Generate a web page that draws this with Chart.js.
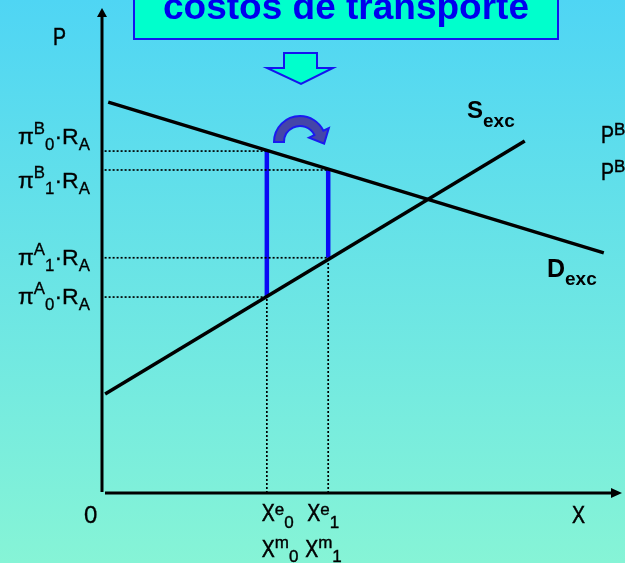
<!DOCTYPE html>
<html>
<head>
<meta charset="utf-8">
<script src="https://cdn.jsdelivr.net/npm/chart.js@4.4.0/dist/chart.umd.min.js"></script>
<style>
  html, body { margin: 0; padding: 0; }
  #wrap { width: 625px; height: 563px; position: relative; }
</style>
</head>
<body>
<div id="wrap"><canvas id="graphCanvas"></canvas></div>
<script>
// excess demand and excess supply lines (end points)
const demandExc = [{x: 1.2, y: 80.6}, {x: 96.5, y: 49.5}];
const supplyExc = [{x: 0.6, y: 20.4}, {x: 81.3, y: 72.6}];
// quantities traded before (0) and after (1) the cost change
const quantityIndex = ['0', '1'];
const quantityValues = [31.7, 43.5];
// prices in B and in A for each situation
const priceB = [70.5, 66.6];
const priceA = [40.4, 48.5];
// price tick labels on the vertical axis
const priceTicks = [priceB[0], priceB[1], priceA[1], priceA[0]];
const priceTickCountry = ['B', 'B', 'A', 'A'];
const priceTickIndex = ['0', '1', '1', '0'];

const FONT = '"Liberation Sans", Arial, sans-serif';

// draws text with super/subscripts; sy stretches only the main glyphs
function richText(ctx, x, y, parts, o) {
    const sx = o.sx || 1, sy = o.sy || 1;
    const fontFor = p => (o.bold ? 'bold ' : '') + (p.pos ? o.small : o.size) + 'px ' + FONT;
    ctx.save();
    ctx.fillStyle = o.color || '#000';
    ctx.strokeStyle = o.color || '#000';
    ctx.lineWidth = o.weight || 0;
    ctx.textBaseline = 'alphabetic';
    let cx = x;
    if (o.align === 'right') {
        let w = 0;
        parts.forEach(p => { ctx.font = fontFor(p); w += ctx.measureText(p.t).width * sx; });
        cx = x - w;
    }
    parts.forEach(p => {
        ctx.font = fontFor(p);
        const dy = p.pos === 'sup' ? o.supDy : (p.pos === 'sub' ? o.subDy : 0);
        ctx.save();
        ctx.translate(cx, y + dy);
        ctx.scale(sx, p.pos ? 1 : sy);
        ctx.fillText(p.t, 0, 0);
        if (o.weight) ctx.strokeText(p.t, 0, 0);
        ctx.restore();
        cx += ctx.measureText(p.t).width * sx;
    });
    ctx.restore();
}

const decorations = {
    id: 'decorations',
    beforeDraw(chart) {
        const ctx = chart.ctx;
        const g = ctx.createLinearGradient(0, 0, 0, chart.height);
        g.addColorStop(0, '#4FD5F4');
        g.addColorStop(1, '#86F4D6');
        ctx.save();
        ctx.fillStyle = g;
        ctx.fillRect(0, 0, chart.width, chart.height);
        ctx.restore();
    },
    afterDraw(chart) {
        const ctx = chart.ctx;
        const xs = chart.scales.x, ys = chart.scales.y;
        const ox = xs.getPixelForValue(0), oy = ys.getPixelForValue(0);
        const tx = xs.getPixelForValue(100), ty = ys.getPixelForValue(100);
        ctx.save();
        // axes with arrow heads
        ctx.strokeStyle = '#000';
        ctx.fillStyle = '#000';
        ctx.lineWidth = 3;
        ctx.beginPath();
        ctx.moveTo(ox, oy - 1); ctx.lineTo(ox, ty + 8);
        ctx.moveTo(ox + 3, oy); ctx.lineTo(tx - 10, oy);
        ctx.stroke();
        ctx.beginPath();
        ctx.moveTo(ox, ty); ctx.lineTo(ox - 5, ty + 9); ctx.lineTo(ox + 5, ty + 9); ctx.closePath();
        ctx.fill();
        ctx.beginPath();
        ctx.moveTo(tx, oy); ctx.lineTo(tx - 11, oy - 5); ctx.lineTo(tx - 11, oy + 5); ctx.closePath();
        ctx.fill();

        // price labels
        const tickShift = [-14, 11, 0, 0];
        priceTicks.forEach((v, i) => {
            const py = ys.getPixelForValue(v) + tickShift[i] + 7;
            richText(ctx, 90, py, [
                {t: 'π'}, {t: priceTickCountry[i], pos: 'sup'}, {t: priceTickIndex[i], pos: 'sub'},
                {t: '·R'}, {t: 'A', pos: 'sub'}
            ], {size: 22, small: 16, sx: 1.05, supDy: -10, subDy: 6, align: 'right', weight: 0.3});
        });

        // quantity labels
        const big = {size: 19.5, small: 17, sy: 1.27, supDy: -6, subDy: 7, weight: 0.4};
        const qShift = [-5, -21];
        quantityValues.forEach((v, i) => {
            const px = xs.getPixelForValue(v) + qShift[i];
            richText(ctx, px, 521, [{t: 'X'}, {t: 'e', pos: 'sup'}, {t: quantityIndex[i], pos: 'sub'}], big);
            richText(ctx, px - (i ? 2 : 0), 557, [{t: 'X'}, {t: 'm', pos: 'sup'}, {t: quantityIndex[i], pos: 'sub'}],
                Object.assign({}, big, {supDy: -9, subDy: 5}));
        });
        richText(ctx, 84, 523, [{t: '0'}], {size: 24, weight: 0.3});
        richText(ctx, 53, 45, [{t: 'P'}], big);
        richText(ctx, 572, 523, [{t: 'X'}], big);
        richText(ctx, 601, 143, [{t: 'P'}, {t: 'B', pos: 'sup'}], Object.assign({}, big, {supDy: -8}));
        richText(ctx, 601, 180, [{t: 'P'}, {t: 'B', pos: 'sup'}], Object.assign({}, big, {supDy: -8}));

        // curve names
        richText(ctx, 467, 118, [{t: 'S'}, {t: 'exc', pos: 'sub'}], {size: 24, small: 19, bold: true, supDy: 0, subDy: 9});
        richText(ctx, 547, 277, [{t: 'D'}, {t: 'exc', pos: 'sub'}], {size: 25, small: 19, bold: true, supDy: 0, subDy: 8});

        // title box
        ctx.fillStyle = '#00FFCC';
        ctx.strokeStyle = '#1414F0';
        ctx.lineWidth = 2;
        ctx.fillRect(134, -4, 424, 43);
        ctx.strokeRect(134, -4, 424, 43);
        ctx.fillStyle = '#0000EE';
        ctx.font = 'bold 37px ' + FONT;
        ctx.textAlign = 'center';
        ctx.fillText('costos de transporte', 346, 19);
        ctx.textAlign = 'left';

        // block arrow down
        ctx.beginPath();
        ctx.moveTo(284, 53); ctx.lineTo(317, 53); ctx.lineTo(317, 68); ctx.lineTo(333, 68);
        ctx.lineTo(301, 84); ctx.lineTo(267, 68); ctx.lineTo(284, 68); ctx.closePath();
        ctx.fillStyle = '#00FFCC';
        ctx.fill();
        ctx.stroke();

        // curved arrow
        const cx = 300, cy = 142, r1 = 16, r2 = 26, a = 2 * Math.PI - 0.45;
        const rm = (r1 + r2) / 2;
        ctx.beginPath();
        ctx.arc(cx, cy, r2, Math.PI, a, false);
        ctx.lineTo(cx + 32 * Math.cos(a), cy + 32 * Math.sin(a));
        const mx = cx + rm * Math.cos(a), my = cy + rm * Math.sin(a);
        ctx.lineTo(mx - 12 * Math.sin(a), my + 12 * Math.cos(a));
        ctx.lineTo(cx + 10 * Math.cos(a), cy + 10 * Math.sin(a));
        ctx.lineTo(cx + r1 * Math.cos(a), cy + r1 * Math.sin(a));
        ctx.arc(cx, cy, r1, a, Math.PI, true);
        ctx.closePath();
        ctx.fillStyle = '#4545A8';
        ctx.fill();
        ctx.strokeStyle = '#1A1AF0';
        ctx.stroke();
        ctx.restore();
    }
};

const seg = (p, q) => [p, q];
const datasets = [];
const dotted = {borderColor: '#000', borderWidth: 1.7, borderDash: [2, 2]};
quantityValues.forEach((q, i) => {
    datasets.push(Object.assign({data: seg({x: 0.5, y: priceB[i]}, {x: q, y: priceB[i]})}, dotted));
    datasets.push(Object.assign({data: seg({x: 0.5, y: priceA[i]}, {x: q, y: priceA[i]})}, dotted));
    datasets.push(Object.assign({data: seg({x: q, y: 0}, {x: q, y: priceA[i]})}, dotted));
});
datasets.push({label: 'Dexc', data: demandExc, borderColor: '#000', borderWidth: 3.5});
datasets.push({label: 'Sexc', data: supplyExc, borderColor: '#000', borderWidth: 3.5});
quantityValues.forEach((q, i) => {
    datasets.push({data: seg({x: q, y: priceA[i]}, {x: q, y: priceB[i]}), borderColor: '#0A0AF5', borderWidth: 4.5});
});

const ctx = document.getElementById('graphCanvas').getContext('2d');
const myChart = new Chart(ctx, {
    type: 'scatter',
    data: {datasets: datasets.map(d => Object.assign({showLine: true, pointRadius: 0, fill: false}, d))},
    options: {
        responsive: true,
        maintainAspectRatio: false,
        animation: false,
        layout: {padding: {left: 102, right: 3, top: 8, bottom: 70}},
        plugins: {legend: {display: false}, tooltip: {enabled: false}},
        scales: {
            x: {type: 'linear', min: 0, max: 100, display: false},
            y: {type: 'linear', min: 0, max: 100, display: false}
        }
    },
    plugins: [decorations]
});
</script>
</body>
</html>
